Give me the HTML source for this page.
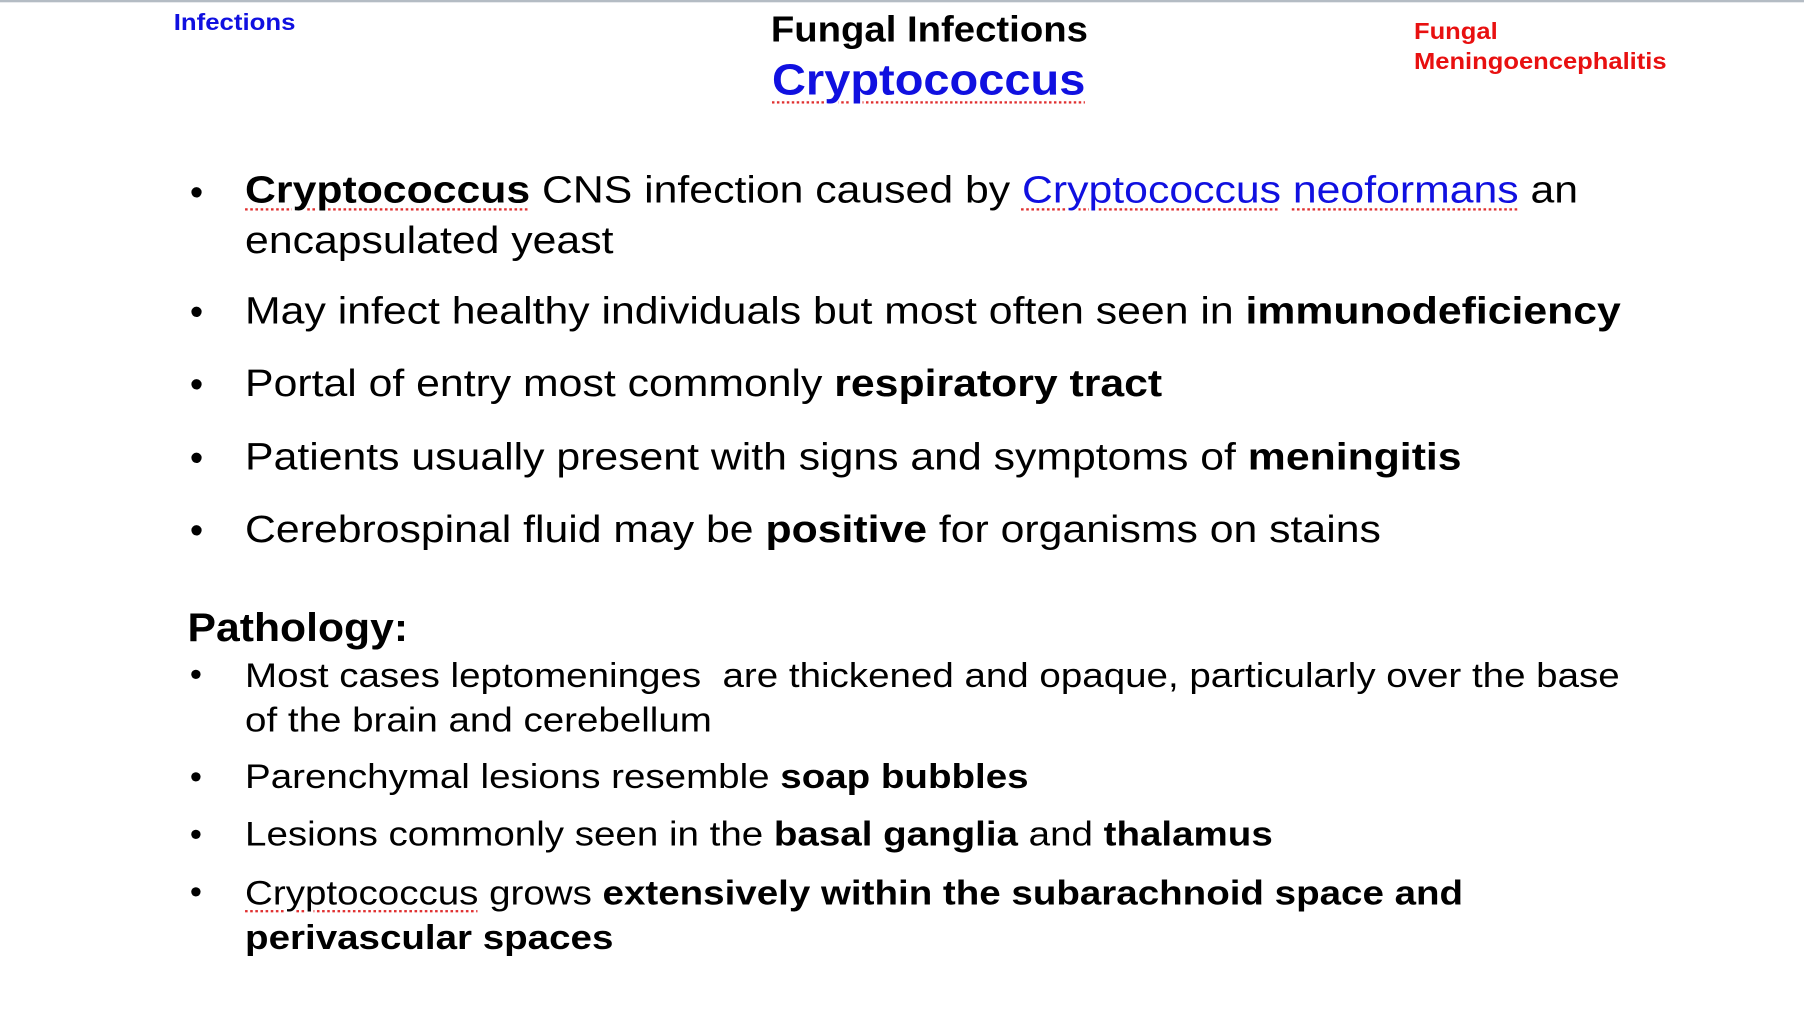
<!DOCTYPE html>
<html><head><meta charset="utf-8"><style>
html,body{margin:0;padding:0;background:#fff;}
#stage{position:relative;width:1804px;height:1026px;overflow:hidden;background:#fff;}
#inner{position:absolute;left:0;top:0;width:1568px;height:892px;transform:scale(1.1505);transform-origin:0 0;font-family:"Liberation Sans",Arial,sans-serif;color:#000;}
.t{position:absolute;white-space:nowrap;line-height:1;transform-origin:0 0;}
.x1{transform:scaleX(1.126);}
.x2{transform:scaleX(1.116);}
.b{font-weight:bold;}
.blue{color:#1010e0;}
.sq{text-decoration:underline dotted #e03030;text-underline-offset:5px;text-decoration-thickness:2px;}
.bul{position:absolute;line-height:1;}
</style></head><body>
<div id="stage">
<div id="inner">
<div style="position:absolute;left:0;top:0;width:1568px;height:2px;background:#b4bcc4"></div>
<div class="t b blue" style="left:151px;top:10px;font-size:20px;transform:scaleX(1.12)">Infections</div>
<div class="t b" style="left:670px;top:10px;font-size:31px;transform:scaleX(1.074)">Fungal Infections</div>
<div class="t b blue" style="left:671px;top:51px;font-size:38px;transform:scaleX(1.075);text-decoration:underline dotted #e03030;text-underline-offset:6px;text-decoration-thickness:2px">Cryptococcus</div>
<div class="t b" style="left:1229px;top:15px;font-size:20px;color:#e81010;line-height:26px;transform:scaleX(1.11)">Fungal<br>Meningoencephalitis</div>

<div class="bul" style="left:165px;top:150px;font-size:33px">•</div>
<div class="t x1" style="left:213px;top:143px;font-size:33px;line-height:44px"><span class="b sq">Cryptococcus</span> CNS infection caused by <span class="blue sq">Cryptococcus</span> <span class="blue sq">neoformans</span> an<br>encapsulated yeast</div>

<div class="bul" style="left:165px;top:254px;font-size:33px">•</div>
<div class="t x1" style="left:213px;top:253px;font-size:33px">May infect healthy individuals but most often seen in <b>immunodeficiency</b></div>

<div class="bul" style="left:165px;top:317px;font-size:33px">•</div>
<div class="t x1" style="left:213px;top:316px;font-size:33px">Portal of entry most commonly <b>respiratory tract</b></div>

<div class="bul" style="left:165px;top:381px;font-size:33px">•</div>
<div class="t x1" style="left:213px;top:380px;font-size:33px">Patients usually present with signs and symptoms of <b>meningitis</b></div>

<div class="bul" style="left:165px;top:444px;font-size:33px">•</div>
<div class="t x1" style="left:213px;top:443px;font-size:33px">Cerebrospinal fluid may be <b>positive</b> for organisms on stains</div>

<div class="t b" style="left:163px;top:528px;font-size:35px;transform:scaleX(1.06)">Pathology:</div>

<div class="bul" style="left:165px;top:572px;font-size:30px">•</div>
<div class="t x2" style="left:213px;top:568px;font-size:30px;line-height:39px">Most cases leptomeninges&nbsp; are thickened and opaque, particularly over the base<br>of the brain and cerebellum</div>

<div class="bul" style="left:165px;top:661px;font-size:30px">•</div>
<div class="t x2" style="left:213px;top:661px;font-size:30px">Parenchymal lesions resemble <b>soap bubbles</b></div>

<div class="bul" style="left:165px;top:711px;font-size:30px">•</div>
<div class="t x2" style="left:213px;top:711px;font-size:30px">Lesions commonly seen in the <b>basal ganglia</b> and <b>thalamus</b></div>

<div class="bul" style="left:165px;top:761px;font-size:30px">•</div>
<div class="t x2" style="left:213px;top:757px;font-size:30px;line-height:39px"><span class="sq">Cryptococcus</span> grows <b>extensively within the subarachnoid space and<br>perivascular spaces</b></div>
</div>
</div>
</body></html>
